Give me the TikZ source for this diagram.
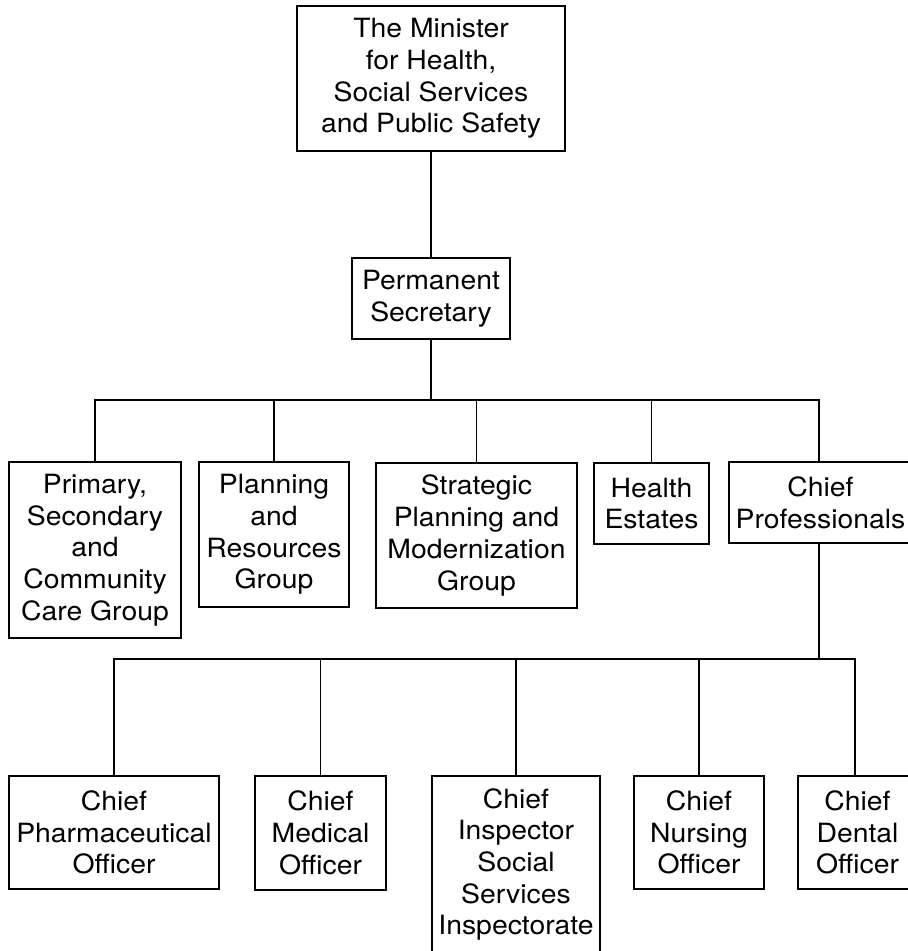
\documentclass[tikz,border=0pt]{standalone}
\usepackage{fontspec}
\setmainfont{TeX Gyre Heros}[FakeStretch=1.07]
\begin{document}
\begin{tikzpicture}[x=1pt,y=-1pt,
  box/.style={draw=black, line width=1.6pt, rectangle, inner sep=2pt, align=center,
    font=\fontsize{26.5}{31.7}\selectfont},
  conn/.style={draw=black, line width=1.8pt},
  stem/.style={draw=black, line width=2.4pt}]
\useasboundingbox (0,0) rectangle (908,951);
% top levels
\node[box, minimum width=268, minimum height=145] (min) at (431,78.5)
  {The Minister\\for Health,\\Social Services\\and Public Safety};
\node[box, minimum width=158, minimum height=81] (ps) at (431,298.5)
  {Permanent\\Secretary};
% groups
\node[box, minimum width=172, minimum height=176] (g1) at (95,550)
  {Primary,\\Secondary\\and\\Community\\Care Group};
\node[box, minimum width=150, minimum height=145] (g2) at (274,534.5)
  {Planning\\and\\Resources\\Group};
\node[box, minimum width=201, minimum height=145] (g3) at (476.5,535.5)
  {Strategic\\Planning and\\Modernization\\Group};
\node[box, minimum width=115, minimum height=81] (g4) at (651.5,503.5)
  {Health\\Estates};
\node[box, minimum width=183, minimum height=81] (g5) at (820.5,502.5)
  {Chief\\Professionals};
% chief professionals
\node[box, minimum width=210, minimum height=113] (c1) at (114,832.5)
  {Chief\\Pharmaceutical\\Officer};
\node[box, minimum width=131, minimum height=114] (c2) at (320.5,833)
  {Chief\\Medical\\Officer};
\node[box, minimum width=168, minimum height=177] (c3) at (516,864.5)
  {Chief\\Inspector\\Social\\Services\\Inspectorate};
\node[box, minimum width=130, minimum height=113] (c4) at (699,832.5)
  {Chief\\Nursing\\Officer};
\node[box, minimum width=119, minimum height=113] (c5) at (857.5,832.5)
  {Chief\\Dental\\Officer};
% connectors level 1
\coordinate (bus1) at (431,400);
\draw[stem] (min.south) -- (ps.north);
\draw[stem] (ps.south) -- (bus1);
\draw[conn] (bus1) -| (g1.north);
\draw[conn] (bus1) -| (g2.north);
\draw[conn] (bus1) -| (g3.north);
\draw[conn] (bus1) -| (g4.north);
\draw[conn] (bus1) -| ([xshift=-1.5pt]g5.north);
\draw[line width=2.2pt] (bus1) -- (651,400);
% connectors level 2
\coordinate (bus2) at (819,659);
\draw[stem] ([xshift=-1.5pt]g5.south) -- (bus2);
\draw[conn] (bus2) -| (c1.north);
\draw[conn] (bus2) -| (c2.north);
\draw[conn] (bus2) -| (c3.north);
\draw[conn] (bus2) -| (c4.north);
\draw[conn] (bus2) -| ([xshift=-2.5pt]c5.north);
\draw[line width=2.6pt] (bus2) -- (320.5,659);
\end{tikzpicture}
\end{document}
